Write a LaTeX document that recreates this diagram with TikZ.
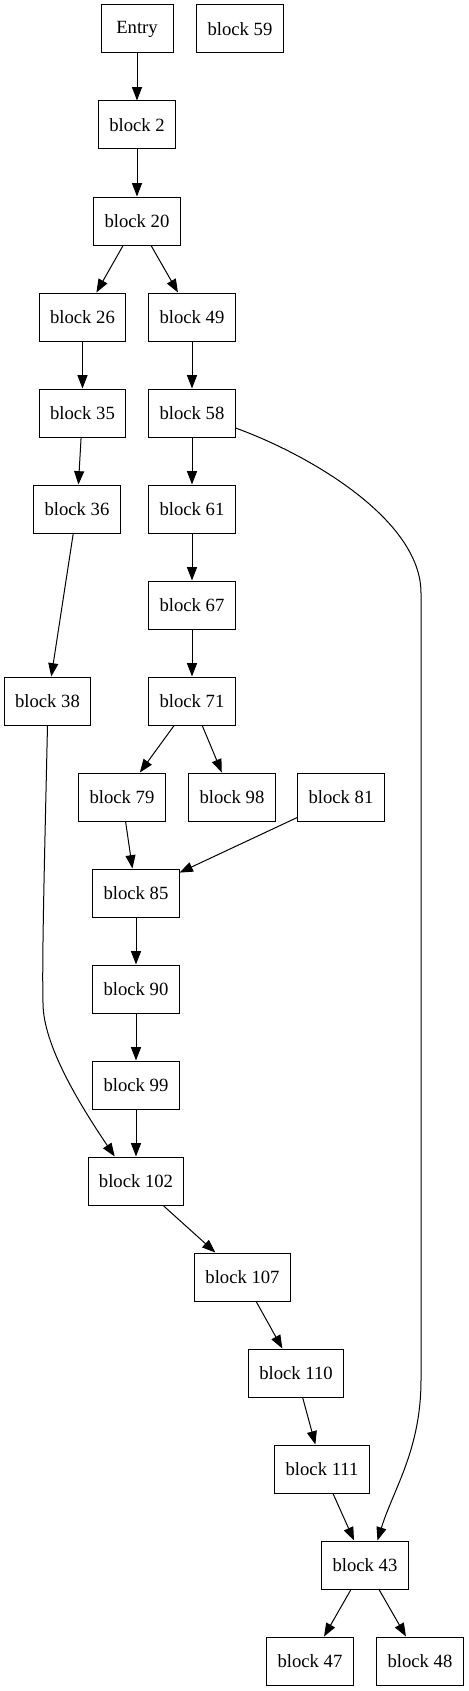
\documentclass[tikz,border=0pt]{standalone}
\usepackage{fontspec}
\setmainfont{Liberation Serif}
\usepackage{tikz}
\usetikzlibrary{arrows.meta}
\usepackage{xcolor}

\tikzset{
  blk/.style={draw, line width=0.75pt, inner xsep=8pt, minimum height=36pt,
    minimum width=54pt, font=\fontsize{14pt}{16pt}\selectfont}
}

\begin{document}
\begin{tikzpicture}[x=0.75pt,y=-0.75pt,>={Triangle[length=10pt,width=7.5pt]}]
\useasboundingbox (0,0) rectangle (468,1691);
%%%BLOCKS
\node[blk] (entry) at (137,29) {Entry};
\node[blk] (b59) at (240,29) {block 59};
\node[blk] (b2) at (137,125) {block 2};
\node[blk] (b20) at (137,221) {block 20};
\node[blk] (b26) at (82.5,317) {block 26};
\node[blk] (b49) at (192,317) {block 49};
\node[blk] (b35) at (82.5,413) {block 35};
\node[blk] (b58) at (192,413) {block 58};
\node[blk] (b36) at (77,509) {block 36};
\node[blk] (b61) at (192,509) {block 61};
\node[blk] (b67) at (192,605) {block 67};
\node[blk] (b38) at (47.5,701) {block 38};
\node[blk] (b71) at (192,701) {block 71};
\node[blk] (b79) at (122,797) {block 79};
\node[blk] (b98) at (232,797) {block 98};
\node[blk] (b81) at (341,797) {block 81};
\node[blk] (b85) at (136,893) {block 85};
\node[blk] (b90) at (136,989) {block 90};
\node[blk] (b99) at (136,1085) {block 99};
\node[blk] (b102) at (136,1181) {block 102};
\node[blk] (b107) at (242.5,1277) {block 107};
\node[blk] (b110) at (296,1373) {block 110};
\node[blk] (b111) at (322,1469) {block 111};
\node[blk] (b43) at (365,1565) {block 43};
\node[blk] (b47) at (310,1661) {block 47};
\node[blk] (b48) at (420,1661) {block 48};
%%%EDGES
\draw[->,line width=0.75pt] (entry) -- (b2);
\draw[->,line width=0.75pt] (b2) -- (b20);
\draw[->,line width=0.75pt] (b20) -- (b26);
\draw[->,line width=0.75pt] (b20) -- (b49);
\draw[->,line width=0.75pt] (b26) -- (b35);
\draw[->,line width=0.75pt] (b49) -- (b58);
\draw[->,line width=0.75pt] (b35) -- (b36);
\draw[->,line width=0.75pt] (b36) -- (b38);
\draw[->,line width=0.75pt] (b58) -- (b61);
\draw[->,line width=0.75pt] (b61) -- (b67);
\draw[->,line width=0.75pt] (b67) -- (b71);
\draw[->,line width=0.75pt] (b71) -- (b79);
\draw[->,line width=0.75pt] (b71) -- (b98);
\draw[->,line width=0.75pt] (b79) -- (b85);
\draw[->,line width=0.75pt] (b81) -- (b85);
\draw[->,line width=0.75pt] (b85) -- (b90);
\draw[->,line width=0.75pt] (b90) -- (b99);
\draw[->,line width=0.75pt] (b99) -- (b102);
\draw[->,line width=0.75pt] (b102) -- (b107);
\draw[->,line width=0.75pt] (b107) -- (b110);
\draw[->,line width=0.75pt] (b110) -- (b111);
\draw[->,line width=0.75pt] (b111) -- (b43);
\draw[->,line width=0.75pt] (b43) -- (b47);
\draw[->,line width=0.75pt] (b43) -- (b48);
%%%LONG EDGES
\draw[->,line width=0.75pt] (b38.south) .. controls (44,880) and (42,960) .. (43,1003)
  .. controls (43,1045) and (80,1105) .. (b102.131);
\draw[->,line width=0.75pt] (b58.-19) .. controls (310,455) and (421,520) .. (421,593)
  -- (421,1380) .. controls (421,1450) and (393,1490) .. (b43.63);
\end{tikzpicture}
\end{document}
